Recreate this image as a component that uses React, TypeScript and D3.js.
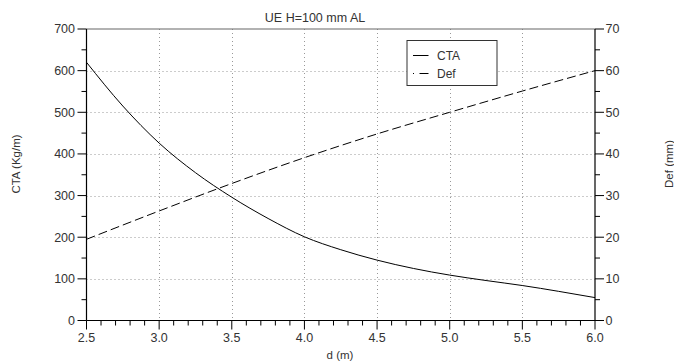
import React from "react";
import * as d3 from "d3";

const dValues = [2.5, 2.75, 3.0, 3.25, 3.5, 3.75, 4.0, 4.25, 4.5, 4.75, 5.0, 5.25, 5.5, 5.75, 6.0];
const ctaValues = [620, 515, 426, 355, 296, 245, 201, 170, 145, 125, 109, 96, 84, 70, 55];
const defD = [2.5, 3.0, 3.5, 4.0, 4.5, 5.0, 5.5, 6.0];
const defValues = [19.5, 26.3, 32.9, 39.1, 44.8, 50.0, 55.1, 60.0];
const xTicks = [2.5, 3.0, 3.5, 4.0, 4.5, 5.0, 5.5, 6.0];
const yLeftTicks = [0, 100, 200, 300, 400, 500, 600, 700];
const yRightTicks = [0, 10, 20, 30, 40, 50, 60, 70];
const title = "UE H=100 mm AL";

export default function App() {
  const W = 674, H = 363;
  const L = 86.5, R = 595, T = 29, B = 320.5;
  const x = d3.scaleLinear().domain([2.5, 6.0]).range([L, R]);
  const yL = d3.scaleLinear().domain([0, 700]).range([B, T]);
  const yR = d3.scaleLinear().domain([0, 70]).range([B, T]);
  const font = "Liberation Sans, Arial, Helvetica, sans-serif";
  const txt = "#333";

  const ctaLine = d3.line<number>().x((_, i) => x(dValues[i])).y((v) => yL(v)).curve(d3.curveMonotoneX)(ctaValues) || "";
  const defLine = d3.line<number>().x((_, i) => x(defD[i])).y((v) => yR(v)).curve(d3.curveMonotoneX)(defValues) || "";

  const xMinor = d3.range(25, 61).map((v) => v / 10);
  const yLMinor = d3.range(0, 701, 50);
  const yRMinor = d3.range(0, 71, 5);

  return (
    <svg width={W} height={H} style={{ position: "absolute", left: 0, top: 0 }}>
      <rect width={W} height={H} fill="#fff" />
      <g stroke="#999" strokeWidth={1} strokeDasharray="1,3">
        {xTicks.slice(1, -1).map((t) => (
          <line key={"gx" + t} x1={Math.round(x(t)) + 0.5} x2={Math.round(x(t)) + 0.5} y1={T} y2={B} />
        ))}
        {yLeftTicks.slice(1, -1).map((t) => (
          <line key={"gy" + t} x1={L} x2={R} y1={Math.round(yL(t)) + 0.5} y2={Math.round(yL(t)) + 0.5} />
        ))}
      </g>
      <g stroke="#000" strokeWidth={1.2} fill="none">
        <line x1={L} x2={R} y1={T} y2={T} stroke="#666" />
        <line x1={L} x2={L} y1={T} y2={B} />
        <line x1={R} x2={R} y1={T} y2={B} />
        <line x1={L} x2={R} y1={B} y2={B} />
      </g>
      <g stroke="#000" strokeWidth={1}>
        {xMinor.map((t) => {
          const major = Math.abs(t * 2 - Math.round(t * 2)) < 1e-6;
          return <line key={"xt" + t} x1={x(t)} x2={x(t)} y1={B} y2={B + (major ? 9 : 5)} />;
        })}
        {yLMinor.map((t) => (
          <line key={"ylt" + t} x1={L} x2={L - (t % 100 === 0 ? 9 : 5)} y1={yL(t)} y2={yL(t)} />
        ))}
        {yRMinor.map((t) => (
          <line key={"yrt" + t} x1={R} x2={R + (t % 10 === 0 ? 9 : 5)} y1={yR(t)} y2={yR(t)} />
        ))}
      </g>
      <g fontFamily={font} fontSize={12.5} fill={txt}>
        {xTicks.map((t) => (
          <text key={"xl" + t} x={x(t)} y={342} textAnchor="middle">{t.toFixed(1)}</text>
        ))}
        {yLeftTicks.map((t) => (
          <text key={"yll" + t} x={75} y={yL(t) + 4.3} textAnchor="end">{t}</text>
        ))}
        {yRightTicks.map((t) => (
          <text key={"yrl" + t} x={605.5} y={yR(t) + 4.3} textAnchor="start">{t}</text>
        ))}
      </g>
      <g fontFamily={font} fontSize={11.5} fill={txt}>
        <text x={315} y={22} textAnchor="middle" fontSize={12.5}>{title}</text>
        <text x={340} y={359} textAnchor="middle">d (m)</text>
        <text transform="translate(20,164) rotate(-90)" textAnchor="middle">CTA (Kg/m)</text>
        <text transform="translate(673,164) rotate(-90)" textAnchor="middle">Def (mm)</text>
      </g>
      <path d={ctaLine} fill="none" stroke="#000" strokeWidth={1} />
      <path d={defLine} fill="none" stroke="#000" strokeWidth={1} strokeDasharray="9,4" />
      <g>
        <rect x={407} y={40.5} width={90} height={45} fill="#fff" stroke="#333" strokeWidth={1} />
        <line x1={413} x2={428.5} y1={55.5} y2={55.5} stroke="#000" strokeWidth={1} />
        <line x1={413} x2={428.5} y1={73.5} y2={73.5} stroke="#000" strokeWidth={1} strokeDasharray="1,5.5,9,0" />
        <g fontFamily={font} fontSize={12} fill={txt}>
          <text x={437} y={59.5}>CTA</text>
          <text x={437} y={77.5}>Def</text>
        </g>
      </g>
    </svg>
  );
}
